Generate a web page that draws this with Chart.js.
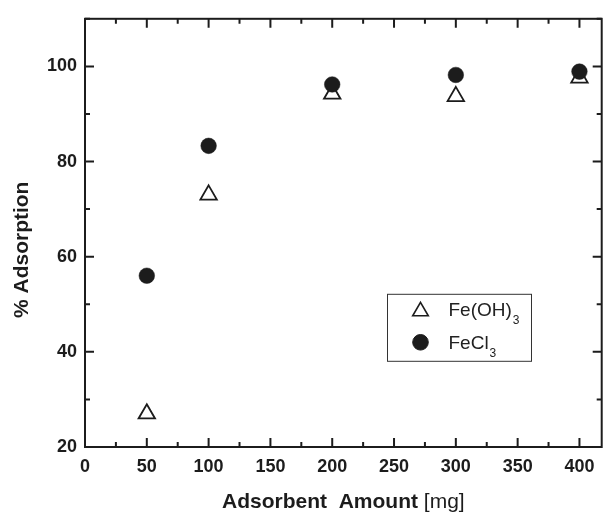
<!DOCTYPE html>
<html><head><meta charset="utf-8">
<script src="https://cdn.jsdelivr.net/npm/chart.js@4.4.1/dist/chart.umd.min.js"></script>
<style>html,body{margin:0;padding:0;background:#fff}#wrap{width:613px;height:513px}</style>
</head><body><div id="wrap"><canvas id="c" width="613" height="513"></canvas></div>
<script>
const amounts = [50, 100, 200, 300, 400];
const feOH3 = [27, 73, 94.2, 93.7, 97.6];
const feCl3 = [56, 83.3, 96.2, 98.2, 98.9];
const xMajorTicks = [0, 50, 100, 150, 200, 250, 300, 350, 400];
const xMinorTicks = [25, 75, 125, 175, 225, 275, 325, 375];
const yMajorTicks = [20, 40, 60, 80, 100];
const yMinorTicks = [30, 50, 70, 90, 110];
const xLimits = [0, 418];
const yLimits = [20, 110];
const seriesNames = ['Fe(OH)', 'FeCl'];
const seriesSub = ['3', '3'];
const xTitleBold = 'Adsorbent  Amount ';
const xTitleUnit = '[mg]';
const yTitle = '% Adsorption';

const INK = '#1c1c1c';
const FONT = 'Liberation Sans, Arial, Helvetica, sans-serif';

function drawMarker(ctx, style, r, x, y, fill, bw) {
  if (Chart.helpers && Chart.helpers.drawPoint) {
    ctx.save();
    ctx.fillStyle = fill; ctx.strokeStyle = INK; ctx.lineWidth = bw;
    Chart.helpers.drawPoint(ctx, {pointStyle: style, radius: r, rotation: 0, borderWidth: bw}, x, y);
    ctx.restore();
  }
}

const framePlugin = {
  id: 'frame',
  beforeDatasetsDraw(chart) {
    const {ctx, chartArea: a, scales} = chart;
    const xs = scales.x, ys = scales.y;
    ctx.save();
    ctx.strokeStyle = INK; ctx.lineWidth = 2;
    ctx.strokeRect(a.left, a.top, a.right - a.left, a.bottom - a.top);
    ctx.beginPath();
    const tick = (vals, len) => {
      vals.forEach(v => {
        const px = xs.getPixelForValue(v);
        ctx.moveTo(px, a.bottom); ctx.lineTo(px, a.bottom - len);
        ctx.moveTo(px, a.top); ctx.lineTo(px, a.top + len);
      });
    };
    const ytick = (vals, len) => {
      vals.forEach(v => {
        const py = ys.getPixelForValue(v);
        ctx.moveTo(a.left, py); ctx.lineTo(a.left + len, py);
        ctx.moveTo(a.right, py); ctx.lineTo(a.right - len, py);
      });
    };
    tick(xMajorTicks, 9); tick(xMinorTicks, 5);
    ytick(yMajorTicks, 9); ytick(yMinorTicks, 5);
    ctx.stroke();
    ctx.restore();
  },
  afterDraw(chart) {
    const {ctx, chartArea: a} = chart;
    ctx.save();
    ctx.fillStyle = INK;
    // x title
    ctx.textBaseline = 'alphabetic';
    ctx.font = 'bold 21px ' + FONT;
    const wb = ctx.measureText(xTitleBold).width;
    ctx.font = '21px ' + FONT;
    const wu = ctx.measureText(xTitleUnit).width;
    const cx = (a.left + a.right) / 2;
    let sx = cx - (wb + wu) / 2;
    ctx.font = 'bold 21px ' + FONT;
    ctx.textAlign = 'left';
    ctx.fillText(xTitleBold, sx, a.bottom + 61);
    ctx.font = '21px ' + FONT;
    ctx.fillText(xTitleUnit, sx + wb, a.bottom + 61);
    // y title
    ctx.save();
    ctx.translate(22, a.top + 231);
    ctx.rotate(-Math.PI / 2);
    ctx.font = 'bold 21px ' + FONT;
    ctx.textAlign = 'center'; ctx.textBaseline = 'middle';
    ctx.fillText(yTitle, 0, 0);
    ctx.restore();
    // legend
    const lx = a.left + 302.5, ly = a.top + 275.5;
    ctx.strokeStyle = '#333'; ctx.lineWidth = 1;
    ctx.strokeRect(lx, ly, 144, 67);
    drawMarker(ctx, 'triangle', 9, lx + 33, ly + 17, '#fff', 1.6);
    drawMarker(ctx, 'circle', 7.8, lx + 33, ly + 48, INK, 1);
    ctx.fillStyle = '#222';
    ctx.textAlign = 'left'; ctx.textBaseline = 'alphabetic';
    const rows = [[seriesNames[0], seriesSub[0], ly + 21.5], [seriesNames[1], seriesSub[1], ly + 55]];
    rows.forEach(([t, s, by]) => {
      ctx.font = '19px ' + FONT;
      const w = ctx.measureText(t).width;
      ctx.fillText(t, lx + 61, by);
      ctx.font = '12px ' + FONT;
      ctx.fillText(s, lx + 61 + w + 1, by + 8);
    });
    ctx.restore();
  }
};

const tickFont = {family: FONT, weight: 'bold', size: 18};

new Chart(document.getElementById('c'), {
  type: 'scatter',
  data: {
    datasets: [
      {
        label: seriesNames[1] + seriesSub[1],
        data: amounts.map((x, i) => ({x, y: feCl3[i]})),
        pointStyle: 'circle', pointRadius: 7.8,
        backgroundColor: INK, borderColor: INK, borderWidth: 0.5,
        order: 1
      },
      {
        label: seriesNames[0] + seriesSub[0],
        data: amounts.map((x, i) => ({x, y: feOH3[i]})),
        pointStyle: 'triangle', pointRadius: 9.5,
        backgroundColor: '#fff', borderColor: INK, borderWidth: 1.8,
        order: 2
      }
    ]
  },
  options: {
    responsive: false,
    devicePixelRatio: 1,
    animation: false,
    layout: {padding: {top: 15, right: 2, left: 0, bottom: 0}},
    plugins: {legend: {display: false}, tooltip: {enabled: false}},
    scales: {
      x: {
        type: 'linear', min: xLimits[0], max: xLimits[1],
        afterBuildTicks: s => { s.ticks = xMajorTicks.map(v => ({value: v})); },
        afterFit: s => { s.height = 66; },
        grid: {display: false, drawTicks: false},
        border: {display: false},
        ticks: {font: tickFont, color: INK, padding: 9, maxRotation: 0, autoSkip: false}
      },
      y: {
        type: 'linear', min: yLimits[0], max: yLimits[1],
        afterBuildTicks: s => { s.ticks = yMajorTicks.map(v => ({value: v})); },
        afterFit: s => { s.width = 85; },
        grid: {display: false, drawTicks: false},
        border: {display: false},
        ticks: {font: tickFont, color: INK, padding: 8, autoSkip: false}
      }
    }
  },
  plugins: [framePlugin]
});
</script></body></html>
